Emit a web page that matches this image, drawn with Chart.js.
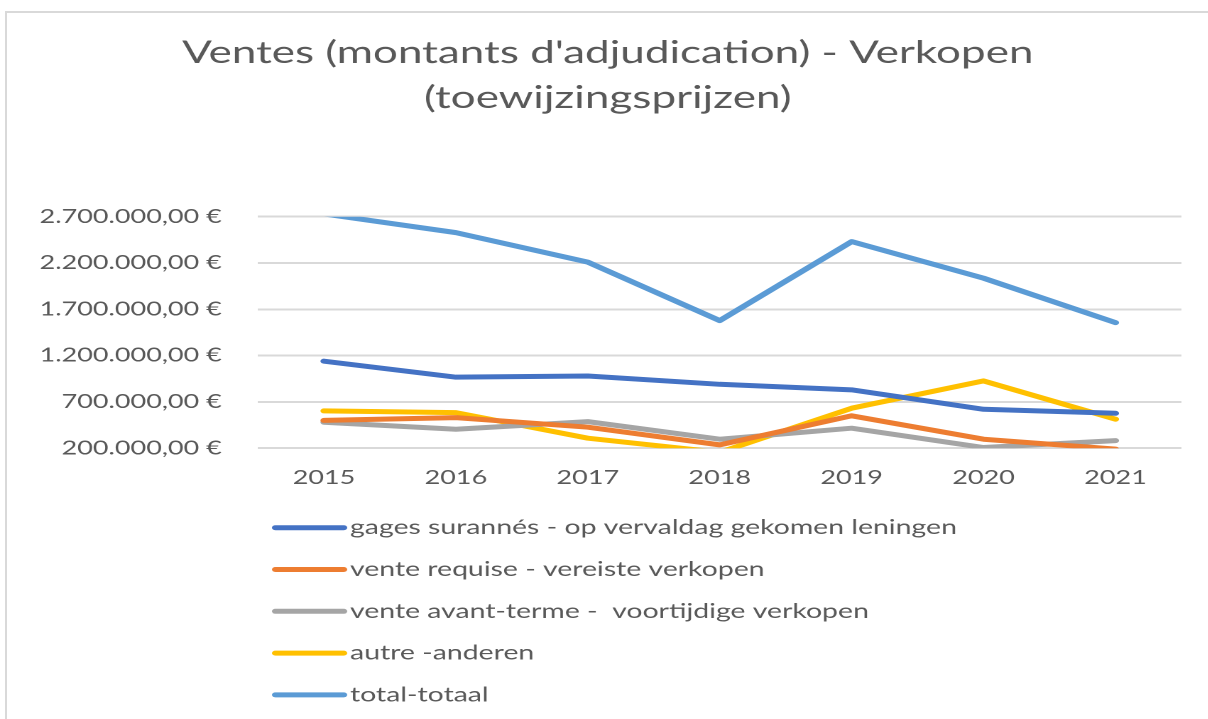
<!DOCTYPE html>
<html>
<head>
<meta charset="utf-8">
<script src="https://cdn.jsdelivr.net/npm/chart.js@4.4.1/dist/chart.umd.min.js"></script>
<style>
  html, body { margin: 0; padding: 0; background: #fff; overflow: hidden; }
  #frame {
    position: absolute; left: 5px; top: 11px; width: 1300px; height: 800px;
    border-left: 2px solid #d9d9d9; border-top: 2px solid #d9d9d9;
  }
  /* the source picture is stretched sideways, so the chart is too */
  #wrap {
    position: absolute; left: 0; top: 0; width: 851px; height: 719px;
    transform: scaleX(1.42); transform-origin: 0 0;
  }
</style>
</head>
<body>
<div id="frame"></div>
<div id="wrap"><canvas id="chart"></canvas></div>
<script>
const years = ['2015', '2016', '2017', '2018', '2019', '2020', '2021'];

const gagesSurannes = [1140000, 967000, 980000, 890000, 830000, 620000, 577000];
const venteRequise = [500000, 530000, 427000, 236000, 550000, 297000, 190000];
const venteAvantTerme = [480000, 405000, 487000, 297000, 416000, 207000, 282000];
const autre = [603000, 584000, 308000, 155000, 632000, 927000, 513000];
const total = [2730000, 2528000, 2209000, 1578000, 2431000, 2036000, 1556000];

const yTickValues = [200000, 700000, 1200000, 1700000, 2200000, 2700000];
const yTickLabels = ['200.000,00 €', '700.000,00 €', '1.200.000,00 €', '1.700.000,00 €', '2.200.000,00 €', '2.700.000,00 €'];

const FONT = 'Lato';
const TEXT = '#595959';

const line = (label, data, color) => ({
    label, data,
    borderColor: color,
    backgroundColor: color,
    borderWidth: 5,
    borderCapStyle: 'round',
    borderJoinStyle: 'round',
    pointRadius: 0,
    pointHoverRadius: 0,
    tension: 0
});

// legend drawn as one item per row, under the axis
const rowLegend = {
    id: 'rowLegend',
    afterDraw(chart) {
        const ctx = chart.ctx;
        ctx.save();
        ctx.font = `20px ${FONT}`;
        ctx.textBaseline = 'middle';
        ctx.textAlign = 'left';
        chart.data.datasets.forEach((ds, i) => {
            const y = 527.7 + 41.8 * i;
            ctx.strokeStyle = ds.borderColor;
            ctx.lineWidth = 5;
            ctx.lineCap = 'round';
            ctx.beginPath();
            ctx.moveTo(194, y);
            ctx.lineTo(242, y);
            ctx.stroke();
            ctx.fillStyle = TEXT;
            ctx.fillText(ds.label, 246.5, y);
        });
        ctx.restore();
    }
};

new Chart(document.getElementById('chart'), {
    type: 'line',
    data: {
        labels: years,
        datasets: [
            line('gages surannés - op vervaldag gekomen leningen', gagesSurannes, '#4472C4'),
            line('vente requise - vereiste verkopen', venteRequise, '#ED7D31'),
            line('vente avant-terme -  voortijdige verkopen', venteAvantTerme, '#A5A5A5'),
            line('autre -anderen', autre, '#FFC000'),
            line('total-totaal', total, '#5B9BD5')
        ]
    },
    options: {
        responsive: true,
        maintainAspectRatio: false,
        devicePixelRatio: 2,
        animation: false,
        layout: { padding: { left: 24, right: 19, top: 0, bottom: 211.4 } },
        plugins: {
            legend: { display: false },
            tooltip: { enabled: false },
            title: {
                display: true,
                text: ["Ventes (montants d'adjudication) - Verkopen", '(toewijzingsprijzen)'],
                color: TEXT,
                font: { family: FONT, size: 31, weight: '400', lineHeight: 45 / 31 },
                padding: { top: 30.5, bottom: 96.2 }
            }
        },
        scales: {
            x: {
                offset: true,
                grid: { display: false, drawTicks: false },
                border: { display: false },
                ticks: { color: TEXT, font: { family: FONT, size: 19 }, padding: 18.3 }
            },
            y: {
                min: 200000,
                max: 2700000,
                afterBuildTicks: scale => { scale.ticks = yTickValues.map(v => ({ value: v })); },
                afterFit: scale => { scale.width = 157.7; },
                grid: { color: '#d9d9d9', lineWidth: 2, drawTicks: false },
                border: { display: false },
                ticks: {
                    color: TEXT,
                    font: { family: FONT, size: 19 },
                    padding: 25.5,
                    callback: (v, i) => yTickLabels[i]
                }
            }
        }
    },
    plugins: [rowLegend]
});
</script>
</body>
</html>
